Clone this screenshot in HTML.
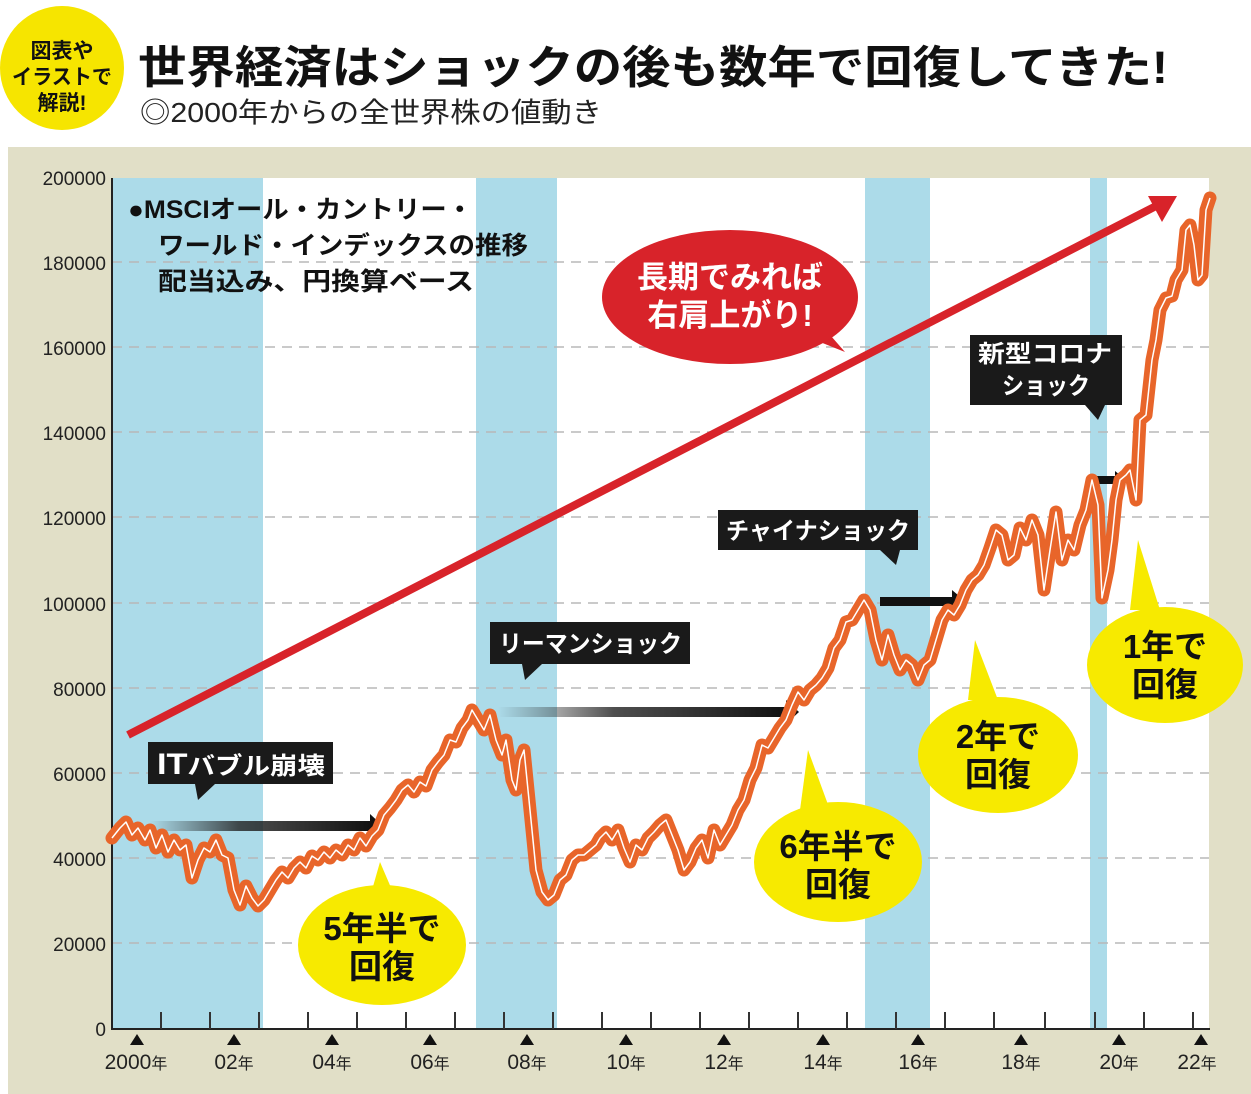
<!DOCTYPE html>
<html><head><meta charset="utf-8"><style>
html,body{margin:0;padding:0;background:#fff;}
body{width:1251px;height:1094px;overflow:hidden;position:relative;font-family:"Liberation Sans","Noto Sans CJK JP",sans-serif;}
</style></head><body>
<svg width="1251" height="1094" viewBox="0 0 1251 1094" xmlns="http://www.w3.org/2000/svg" style="position:absolute;left:0;top:0;font-family:'Liberation Sans','Noto Sans CJK JP',sans-serif">
<defs>
<linearGradient id="ga" x1="0" x2="1" y1="0" y2="0"><stop offset="0" stop-color="#222" stop-opacity="0"/><stop offset="0.4" stop-color="#222" stop-opacity="0.8"/><stop offset="1" stop-color="#111"/></linearGradient>
<polyline id="ln" points="112,838 120,828 126,822 132,835 138,828 145,840 150,830 156,848 162,835 168,852 174,840 180,850 186,845 192,878 198,860 204,848 210,852 216,840 222,855 228,858 234,890 240,905 246,886 252,898 258,906 264,900 270,890 276,880 282,872 288,878 294,868 300,862 306,868 312,856 318,860 324,852 330,858 336,850 342,855 348,845 354,850 360,838 366,846 372,836 378,830 384,815 390,808 396,800 402,790 408,785 414,792 420,782 426,786 432,770 438,762 444,755 450,740 456,742 462,728 468,720 472,710 478,720 484,730 490,715 496,740 502,755 506,740 512,780 516,790 520,760 524,750 528,790 532,830 536,870 542,892 548,900 554,895 560,880 566,875 572,860 578,855 584,855 590,850 596,845 600,838 606,832 612,840 618,830 624,848 630,862 636,845 642,850 648,838 654,832 660,825 666,820 672,835 678,850 684,870 690,862 696,848 702,840 708,858 714,830 720,845 726,835 732,825 738,810 744,800 750,780 756,768 762,745 768,748 774,738 780,728 786,720 792,705 798,692 804,700 810,690 816,685 822,678 828,668 834,648 840,640 846,622 852,620 858,610 864,600 870,610 876,640 882,660 888,635 894,655 900,670 906,660 912,665 918,680 924,665 930,660 936,640 942,620 948,610 954,615 960,605 966,590 972,580 978,575 984,565 990,548 996,530 1002,535 1008,560 1014,555 1020,528 1026,540 1032,520 1038,535 1044,590 1050,550 1056,512 1062,560 1068,540 1074,550 1080,525 1086,510 1092,480 1098,505 1102,598 1108,570 1112,540 1116,500 1120,480 1126,475 1130,470 1136,500 1140,420 1146,415 1152,360 1156,340 1160,310 1166,298 1172,296 1176,280 1182,270 1186,230 1190,225 1194,245 1198,280 1202,275 1206,210 1210,198"/>
</defs>
<rect width="1251" height="1094" fill="#fff"/>
<circle cx="62" cy="68" r="62" fill="#f6e500"/>
<text x="62" y="58" font-size="21" font-weight="bold" text-anchor="middle" fill="#111">図表や</text>
<text x="62" y="84" font-size="21" font-weight="bold" text-anchor="middle" fill="#111" textLength="100" lengthAdjust="spacingAndGlyphs">イラストで</text>
<text x="62" y="110" font-size="21" font-weight="bold" text-anchor="middle" fill="#111">解説!</text>
<text x="138" y="83" font-size="45" font-weight="bold" fill="#111" textLength="1030" lengthAdjust="spacingAndGlyphs">世界経済はショックの後も数年で回復してきた!</text>
<text x="140" y="122" font-size="28" fill="#222" textLength="462" lengthAdjust="spacingAndGlyphs">◎2000年からの全世界株の値動き</text>
<rect x="8" y="147" width="1243" height="947" fill="#e1dfc7"/>
<rect x="112" y="178" width="1097" height="851" fill="#fff"/>
<g fill="#acdbe9">
<rect x="112" y="178" width="151" height="851"/><rect x="476" y="178" width="81" height="851"/><rect x="865" y="178" width="65" height="851"/><rect x="1090" y="178" width="17" height="851"/>
</g>
<g stroke="#b8b8b8" stroke-width="1.5" stroke-dasharray="10,7">
<line x1="112" x2="1209" y1="262" y2="262"/><line x1="112" x2="1209" y1="347" y2="347"/><line x1="112" x2="1209" y1="432" y2="432"/><line x1="112" x2="1209" y1="517" y2="517"/><line x1="112" x2="1209" y1="603" y2="603"/><line x1="112" x2="1209" y1="688" y2="688"/><line x1="112" x2="1209" y1="773" y2="773"/><line x1="112" x2="1209" y1="858" y2="858"/><line x1="112" x2="1209" y1="943" y2="943"/>
</g>
<g font-size="19" fill="#222" text-anchor="end">
<text x="106" y="185">200000</text><text x="106" y="270">180000</text><text x="106" y="355">160000</text><text x="106" y="440">140000</text><text x="106" y="525">120000</text><text x="106" y="611">100000</text><text x="106" y="696">80000</text><text x="106" y="781">60000</text><text x="106" y="866">40000</text><text x="106" y="951">20000</text><text x="106" y="1036">0</text>
</g>
<line x1="112" y1="178" x2="112" y2="1030" stroke="#222" stroke-width="2"/>
<line x1="111" y1="1029" x2="1210" y2="1029" stroke="#222" stroke-width="2"/>
<g stroke="#333" stroke-width="2">
<line x1="161" x2="161" y1="1029" y2="1012"/><line x1="210" x2="210" y1="1029" y2="1012"/><line x1="259" x2="259" y1="1029" y2="1012"/><line x1="308" x2="308" y1="1029" y2="1012"/><line x1="357" x2="357" y1="1029" y2="1012"/><line x1="406" x2="406" y1="1029" y2="1012"/><line x1="455" x2="455" y1="1029" y2="1012"/><line x1="504" x2="504" y1="1029" y2="1012"/><line x1="553" x2="553" y1="1029" y2="1012"/><line x1="602" x2="602" y1="1029" y2="1012"/><line x1="651" x2="651" y1="1029" y2="1012"/><line x1="700" x2="700" y1="1029" y2="1012"/><line x1="749" x2="749" y1="1029" y2="1012"/><line x1="798" x2="798" y1="1029" y2="1012"/><line x1="847" x2="847" y1="1029" y2="1012"/><line x1="896" x2="896" y1="1029" y2="1012"/><line x1="945" x2="945" y1="1029" y2="1012"/><line x1="994" x2="994" y1="1029" y2="1012"/><line x1="1045" x2="1045" y1="1029" y2="1012"/><line x1="1095" x2="1095" y1="1029" y2="1012"/><line x1="1144" x2="1144" y1="1029" y2="1012"/><line x1="1193" x2="1193" y1="1029" y2="1012"/>
</g>
<g fill="#111">
<polygon points="130,1045 144,1045 137,1034"/><polygon points="227,1045 241,1045 234,1034"/><polygon points="325,1045 339,1045 332,1034"/><polygon points="423,1045 437,1045 430,1034"/><polygon points="520,1045 534,1045 527,1034"/><polygon points="619,1045 633,1045 626,1034"/><polygon points="717,1045 731,1045 724,1034"/><polygon points="816,1045 830,1045 823,1034"/><polygon points="911,1045 925,1045 918,1034"/><polygon points="1014,1045 1028,1045 1021,1034"/><polygon points="1112,1045 1126,1045 1119,1034"/><polygon points="1194,1045 1208,1045 1201,1034"/>
</g>
<g font-size="21" fill="#222" text-anchor="middle">
<text x="136" y="1069">2000<tspan font-size="16">年</tspan></text><text x="234" y="1069">02<tspan font-size="16">年</tspan></text><text x="332" y="1069">04<tspan font-size="16">年</tspan></text><text x="430" y="1069">06<tspan font-size="16">年</tspan></text><text x="527" y="1069">08<tspan font-size="16">年</tspan></text><text x="626" y="1069">10<tspan font-size="16">年</tspan></text><text x="724" y="1069">12<tspan font-size="16">年</tspan></text><text x="823" y="1069">14<tspan font-size="16">年</tspan></text><text x="918" y="1069">16<tspan font-size="16">年</tspan></text><text x="1021" y="1069">18<tspan font-size="16">年</tspan></text><text x="1119" y="1069">20<tspan font-size="16">年</tspan></text><text x="1197" y="1069">22<tspan font-size="16">年</tspan></text>
</g>
<g font-size="25" font-weight="bold" fill="#111">
<text x="128" y="218" textLength="345" lengthAdjust="spacingAndGlyphs">●MSCIオール・カントリー・</text>
<text x="158" y="254" textLength="370" lengthAdjust="spacingAndGlyphs">ワールド・インデックスの推移</text>
<text x="158" y="290" textLength="316" lengthAdjust="spacingAndGlyphs">配当込み、円換算ベース</text>
</g>
<line x1="128" y1="735" x2="1160" y2="204" stroke="#d8232a" stroke-width="8"/>
<polygon points="1177,196 1148,196 1162,222" fill="#d8232a"/>
<rect x="150" y="821" width="222" height="10" fill="url(#ga)"/><polygon points="370,814 383,826 370,838" fill="#111"/>
<rect x="498" y="707" width="290" height="10" fill="url(#ga)"/><polygon points="786,700 799,712 786,724" fill="#111"/>
<rect x="880" y="597" width="74" height="9" fill="#111"/><polygon points="952,590 965,601 952,613" fill="#111"/>
<rect x="1095" y="476" width="22" height="8" fill="#111"/><polygon points="1115,471 1126,480 1115,489" fill="#111"/>
<use href="#ln" fill="none" stroke="#e8652a" stroke-width="13" stroke-linejoin="round" stroke-linecap="round"/>
<use href="#ln" fill="none" stroke="#fff" stroke-width="1.5" stroke-linejoin="round"/>
<g fill="#1a1a1a">
<rect x="148" y="742" width="185" height="42"/><polygon points="195,784 215,784 198,800"/>
<rect x="490" y="622" width="200" height="42"/><polygon points="522,664 542,664 525,680"/>
<rect x="718" y="510" width="200" height="40"/><polygon points="880,550 900,550 896,565"/>
<rect x="970" y="335" width="152" height="70"/><polygon points="1085,405 1105,405 1098,420"/>
</g>
<g font-size="24" font-weight="bold" fill="#fff">
<text x="157" y="774" textLength="168" lengthAdjust="spacingAndGlyphs"><tspan font-size="30">IT</tspan>バブル崩壊</text>
<text x="499" y="652" textLength="183" lengthAdjust="spacingAndGlyphs">リーマンショック</text>
<text x="726" y="539" textLength="184" lengthAdjust="spacingAndGlyphs">チャイナショック</text>
<text x="978" y="362" textLength="134" lengthAdjust="spacingAndGlyphs">新型コロナ</text>
<text x="1002" y="394" textLength="88" lengthAdjust="spacingAndGlyphs">ショック</text>
</g>
<g fill="#f7ea00">
<polygon points="372,890 392,890 380,862"/><ellipse cx="382" cy="945" rx="84" ry="60"/>
<polygon points="800,810 830,810 808,750"/><ellipse cx="838" cy="862" rx="84" ry="60"/>
<polygon points="968,700 998,700 975,640"/><ellipse cx="998" cy="755" rx="80" ry="58"/>
<polygon points="1130,610 1160,610 1138,540"/><ellipse cx="1165" cy="665" rx="78" ry="58"/>
</g>
<g font-size="33" font-weight="bold" fill="#111" text-anchor="middle">
<text x="382" y="940">5年半で</text><text x="382" y="978">回復</text>
<text x="838" y="858">6年半で</text><text x="838" y="896">回復</text>
<text x="998" y="748">2年で</text><text x="998" y="786">回復</text>
<text x="1165" y="658">1年で</text><text x="1165" y="696">回復</text>
</g>
<polygon points="790,330 845,352 810,312" fill="#d8232a"/>
<ellipse cx="730" cy="297" rx="128" ry="67" fill="#d8232a"/>
<g font-size="31" font-weight="bold" fill="#fff" text-anchor="middle">
<text x="730" y="288">長期でみれば</text><text x="730" y="326">右肩上がり!</text>
</g>
</svg>
</body></html>
